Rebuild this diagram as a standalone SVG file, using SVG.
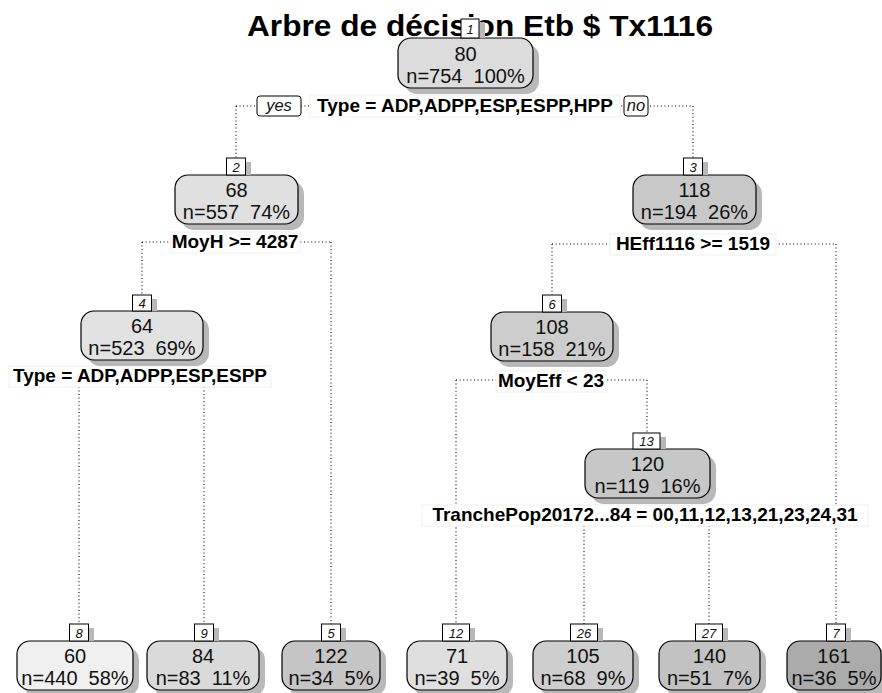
<svg xmlns="http://www.w3.org/2000/svg" width="882" height="693" viewBox="0 0 882 693">
<style>
.bg{fill:#fff}
.box{stroke:#000;stroke-width:1.2}
.sh{fill:#b8b8b8}
.nt{font-family:"Liberation Sans",Arial,sans-serif;font-size:20px;text-anchor:middle;white-space:pre;fill:#111}
.lb{fill:#fff;stroke:#000;stroke-width:1}
.lt{font-family:"Liberation Sans",Arial,sans-serif;font-size:13px;font-style:italic;text-anchor:middle;fill:#111}
.sp{font-family:"Liberation Sans",Arial,sans-serif;font-size:19px;font-weight:bold;text-anchor:middle;fill:#000}
.sbg{fill:#fff;stroke:#f0f0f0;stroke-width:1}
.yn{fill:#fff;stroke:#000;stroke-width:1}
.ynt{font-family:"Liberation Sans",Arial,sans-serif;font-size:16.5px;font-style:italic;text-anchor:middle;fill:#111}
.e{fill:none;stroke:#000;stroke-width:1.1;stroke-dasharray:1 2.6}
.title{font-family:"Liberation Sans",Arial,sans-serif;font-size:30px;font-weight:bold;text-anchor:middle;fill:#000}
</style>
<rect class="bg" x="0" y="0" width="882" height="693"/>
<text class="title" x="480" y="36" textLength="466" lengthAdjust="spacingAndGlyphs">Arbre de décision Etb $ Tx1116</text>

<g id="connectors">
  <path class="e" d="M236 106 H693"/>
  <path class="e" d="M236 106 V158"/>
  <path class="e" d="M693 106 V158"/>
  <path class="e" d="M142 242 H331"/>
  <path class="e" d="M142 242 V295"/>
  <path class="e" d="M331 242 V624"/>
  <path class="e" d="M552 244 H836"/>
  <path class="e" d="M552 244 V295"/>
  <path class="e" d="M836 244 V624"/>
  <path class="e" d="M79 376 H204"/>
  <path class="e" d="M79 376 V624"/>
  <path class="e" d="M204 376 V624"/>
  <path class="e" d="M456 380 H647"/>
  <path class="e" d="M456 380 V624"/>
  <path class="e" d="M647 380 V433"/>
  <path class="e" d="M584 515 H709"/>
  <path class="e" d="M584 515 V624"/>
  <path class="e" d="M709 515 V624"/>
</g>

<g id="split-labels">
  <g id="split1">
    <rect class="sbg" x="310" y="95" width="310" height="22"/>
    <text class="sp" x="465" y="112">Type = ADP,ADPP,ESP,ESPP,HPP</text>
    <rect class="yn" x="257" y="96" width="44" height="20" rx="3"/>
    <text class="ynt" x="279" y="111">yes</text>
    <rect class="yn" x="624" y="96" width="24" height="20" rx="3"/>
    <text class="ynt" x="636" y="111">no</text>
  </g>
  <g id="split2">
    <rect class="sbg" x="170" y="232" width="130" height="21"/>
    <text class="sp" x="235" y="248">MoyH &gt;= 4287</text>
  </g>
  <g id="split3">
    <rect class="sbg" x="610" y="234" width="166" height="21"/>
    <text class="sp" x="693" y="250">HEff1116 &gt;= 1519</text>
  </g>
  <g id="split4">
    <rect class="sbg" x="9" y="366" width="262" height="21"/>
    <text class="sp" x="140" y="382">Type = ADP,ADPP,ESP,ESPP</text>
  </g>
  <g id="split6">
    <rect class="sbg" x="496" y="371" width="110" height="21"/>
    <text class="sp" x="551" y="387">MoyEff &lt; 23</text>
  </g>
  <g id="split13">
    <rect class="sbg" x="422" y="505" width="446" height="21"/>
    <text class="sp" x="645" y="521">TranchePop20172...84 = 00,11,12,13,21,23,24,31</text>
  </g>
</g>

<g id="node1">
  <rect class="sh" x="404" y="44" width="135" height="50" rx="13"/>
  <rect class="box" x="398" y="38" width="135" height="50" rx="13" fill="#dcdcdc"/>
  <text class="nt" x="465.5" y="61">80</text>
  <text class="nt" x="465.5" y="83">n=754  100%</text>
  <rect class="sh" x="466" y="22" width="19" height="16"/>
  <rect class="lb" x="461" y="19" width="18" height="19"/>
  <text class="lt" x="470" y="34">1</text>
</g>

<g id="node2">
  <rect class="sh" x="181" y="181" width="123" height="49" rx="13"/>
  <rect class="box" x="175" y="175" width="123" height="49" rx="13" fill="#e0e0e0"/>
  <text class="nt" x="236.5" y="197">68</text>
  <text class="nt" x="236.5" y="219">n=557  74%</text>
  <rect class="sh" x="232" y="162" width="19" height="13"/>
  <rect class="lb" x="226.5" y="158" width="19" height="17"/>
  <text class="lt" x="236" y="172">2</text>
</g>

<g id="node3">
  <rect class="sh" x="639" y="181" width="123" height="49" rx="13"/>
  <rect class="box" x="633" y="175" width="123" height="49" rx="13" fill="#c8c8c8"/>
  <text class="nt" x="694.5" y="197">118</text>
  <text class="nt" x="694.5" y="219">n=194  26%</text>
  <rect class="sh" x="689" y="162" width="19" height="13"/>
  <rect class="lb" x="683.5" y="158" width="19" height="17"/>
  <text class="lt" x="693" y="172">3</text>
</g>

<g id="node4">
  <rect class="sh" x="87" y="317" width="122" height="49" rx="13"/>
  <rect class="box" x="81" y="311" width="122" height="49" rx="13" fill="#e2e2e2"/>
  <text class="nt" x="142" y="333">64</text>
  <text class="nt" x="142" y="355">n=523  69%</text>
  <rect class="sh" x="138" y="299" width="19" height="12"/>
  <rect class="lb" x="132.5" y="295" width="19" height="16"/>
  <text class="lt" x="142" y="308">4</text>
</g>

<g id="node6">
  <rect class="sh" x="497" y="318" width="122" height="49" rx="13"/>
  <rect class="box" x="491" y="312" width="122" height="49" rx="13" fill="#cdcdcd"/>
  <text class="nt" x="552" y="334">108</text>
  <text class="nt" x="552" y="356">n=158  21%</text>
  <rect class="sh" x="548" y="299" width="19" height="13"/>
  <rect class="lb" x="542.5" y="295" width="19" height="17"/>
  <text class="lt" x="552" y="309">6</text>
</g>

<g id="node13">
  <rect class="sh" x="591" y="455" width="125" height="49" rx="13"/>
  <rect class="box" x="585" y="449" width="125" height="49" rx="13" fill="#c7c7c7"/>
  <text class="nt" x="647.5" y="471">120</text>
  <text class="nt" x="647.5" y="493">n=119  16%</text>
  <rect class="sh" x="639" y="437" width="27" height="12"/>
  <rect class="lb" x="633" y="433" width="27" height="16"/>
  <text class="lt" x="646.5" y="446">13</text>
</g>

<g id="node8">
  <rect class="sh" x="23" y="647" width="116" height="49" rx="13"/>
  <rect class="box" x="17" y="641" width="116" height="49" rx="13" fill="#f0f0f0"/>
  <text class="nt" x="75" y="663">60</text>
  <text class="nt" x="75" y="685">n=440  58%</text>
  <rect class="sh" x="75" y="628" width="19" height="13"/>
  <rect class="lb" x="69.5" y="624" width="19" height="17"/>
  <text class="lt" x="79" y="638">8</text>
</g>

<g id="node9">
  <rect class="sh" x="153" y="647" width="112" height="49" rx="13"/>
  <rect class="box" x="147" y="641" width="112" height="49" rx="13" fill="#dadada"/>
  <text class="nt" x="203" y="663">84</text>
  <text class="nt" x="203" y="685">n=83  11%</text>
  <rect class="sh" x="200" y="628" width="19" height="13"/>
  <rect class="lb" x="194.5" y="624" width="19" height="17"/>
  <text class="lt" x="204" y="638">9</text>
</g>

<g id="node5">
  <rect class="sh" x="288" y="647" width="98" height="49" rx="13"/>
  <rect class="box" x="282" y="641" width="98" height="49" rx="13" fill="#c5c5c5"/>
  <text class="nt" x="331" y="663">122</text>
  <text class="nt" x="331" y="685">n=34  5%</text>
  <rect class="sh" x="327" y="628" width="19" height="13"/>
  <rect class="lb" x="321.5" y="624" width="19" height="17"/>
  <text class="lt" x="331" y="638">5</text>
</g>

<g id="node12">
  <rect class="sh" x="413" y="647" width="100" height="49" rx="13"/>
  <rect class="box" x="407" y="641" width="100" height="49" rx="13" fill="#dfdfdf"/>
  <text class="nt" x="457" y="663">71</text>
  <text class="nt" x="457" y="685">n=39  5%</text>
  <rect class="sh" x="448" y="628" width="27" height="13"/>
  <rect class="lb" x="442.5" y="624" width="27" height="17"/>
  <text class="lt" x="456" y="638">12</text>
</g>

<g id="node26">
  <rect class="sh" x="539" y="647" width="100" height="49" rx="13"/>
  <rect class="box" x="533" y="641" width="100" height="49" rx="13" fill="#cecece"/>
  <text class="nt" x="583" y="663">105</text>
  <text class="nt" x="583" y="685">n=68  9%</text>
  <rect class="sh" x="576" y="628" width="27" height="13"/>
  <rect class="lb" x="570.5" y="624" width="27" height="17"/>
  <text class="lt" x="584" y="638">26</text>
</g>

<g id="node27">
  <rect class="sh" x="665" y="647" width="101" height="49" rx="13"/>
  <rect class="box" x="659" y="641" width="101" height="49" rx="13" fill="#c2c2c2"/>
  <text class="nt" x="709.5" y="663">140</text>
  <text class="nt" x="709.5" y="685">n=51  7%</text>
  <rect class="sh" x="701" y="628" width="27" height="13"/>
  <rect class="lb" x="695.5" y="624" width="27" height="17"/>
  <text class="lt" x="709" y="638">27</text>
</g>

<g id="node7">
  <rect class="sh" x="793" y="647" width="94" height="49" rx="13"/>
  <rect class="box" x="787" y="641" width="94" height="49" rx="13" fill="#ababab"/>
  <text class="nt" x="834" y="663">161</text>
  <text class="nt" x="834" y="685">n=36  5%</text>
  <rect class="sh" x="832" y="628" width="19" height="13"/>
  <rect class="lb" x="826.5" y="624" width="19" height="17"/>
  <text class="lt" x="836" y="638">7</text>
</g>
</svg>
